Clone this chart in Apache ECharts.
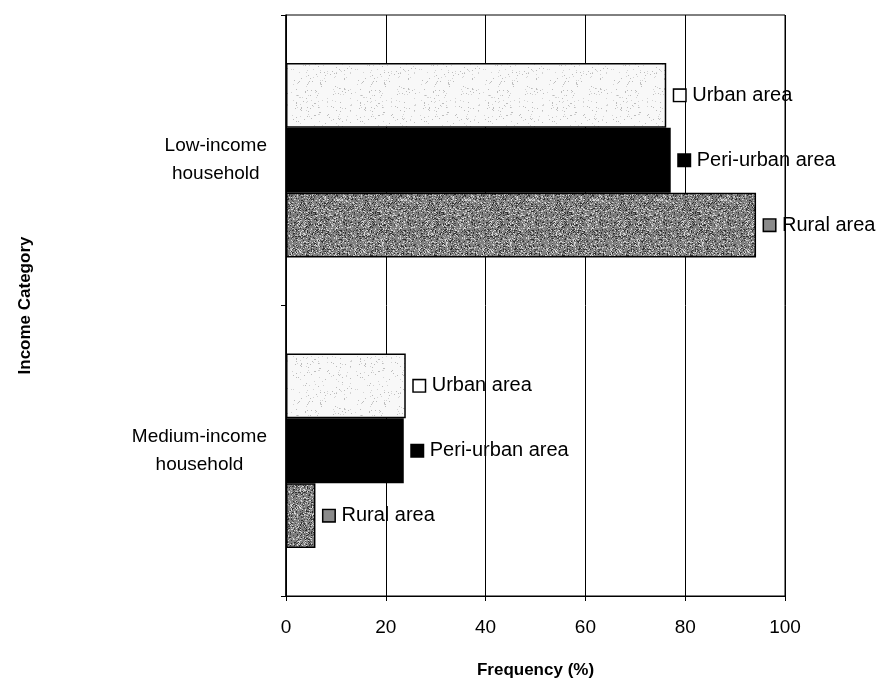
<!DOCTYPE html>
<html>
<head>
<meta charset="utf-8">
<script src="https://cdn.jsdelivr.net/npm/echarts@6/dist/echarts.min.js"></script>
<style>
  html, body { margin: 0; padding: 0; background: #fff; }
  #chart { width: 883px; height: 688px; }
</style>
</head>
<body>
<div id="chart"></div>
<script>
// Income categories (top to bottom) and share of households per area type
const categories = ['Low-income\nhousehold', 'Medium-income\nhousehold'];
const areaNames = ['Urban area', 'Peri-urban area', 'Rural area'];
const urbanValues = [76.2, 24.0];
const periUrbanValues = [77.1, 23.6];
const ruralValues = [94.2, 5.9];
const xTicks = [0, 20, 40, 60, 80, 100];

// Stippled fills built on a small canvas tile with a fixed-seed generator
function stipple(base, dotColors, density, size) {
  const c = document.createElement('canvas');
  c.width = size; c.height = size;
  const ctx = c.getContext('2d');
  ctx.fillStyle = base;
  ctx.fillRect(0, 0, size, size);
  let seed = 12345;
  const next = () => { seed = (seed * 1103515245 + 12345) & 0x7fffffff; return seed / 0x7fffffff; };
  const n = Math.round(size * size * density);
  for (let i = 0; i < n; i++) {
    const x = Math.floor(next() * size), y = Math.floor(next() * size);
    ctx.fillStyle = dotColors[Math.floor(next() * dotColors.length)];
    ctx.fillRect(x, y, 1, 1);
  }
  return { image: c, repeat: 'repeat' };
}

const urbanFill = stipple('#f8f8f8', ['#bdbdbd', '#d4d4d4'], 0.05, 64);
const ruralFill = stipple('#808080', ['#2e2e2e', '#4a4a4a', '#b8b8b8', '#d8d8d8'], 0.5, 64);
const periFill = '#000000';

const fills = [urbanFill, periFill, ruralFill];
const boxColors = ['#ffffff', '#000000', '#8a8a8a'];
const valueSets = [urbanValues, periUrbanValues, ruralValues];

const fontFamily = '"Liberation Sans", Arial, sans-serif';

const series = areaNames.map((name, i) => ({
  name: name,
  type: 'bar',
  data: valueSets[i],
  barGap: '0%',
  barCategoryGap: '33%',
  itemStyle: {
    color: fills[i],
    borderColor: '#000',
    borderWidth: 1.5
  },
  label: {
    show: true,
    position: 'right',
    distance: 8,
    formatter: '{box|}{txt|' + name + '}',
    rich: {
      box: {
        width: 11, height: 11,
        backgroundColor: boxColors[i],
        borderColor: '#000',
        borderWidth: 1.5
      },
      txt: {
        fontFamily: fontFamily,
        fontSize: 20,
        color: '#000',
        padding: [0, 0, 0, 7]
      }
    }
  }
}));

const chart = echarts.init(document.getElementById('chart'), null, { renderer: 'canvas' });
chart.setOption({
  backgroundColor: '#fff',
  animation: false,
  grid: {
    left: 286, right: 98, top: 15, bottom: 92,
    show: true, borderColor: '#000', borderWidth: 1, backgroundColor: 'transparent'
  },
  xAxis: {
    type: 'value',
    min: xTicks[0],
    max: xTicks[xTicks.length - 1],
    interval: 20,
    name: 'Frequency (%)',
    nameLocation: 'middle',
    nameGap: 66,
    nameTextStyle: { fontFamily: fontFamily, fontSize: 17, fontWeight: 'bold', color: '#000' },
    axisLine: { show: true, lineStyle: { color: '#000', width: 1 } },
    axisTick: { show: true, length: 5, lineStyle: { color: '#000' } },
    axisLabel: { fontFamily: fontFamily, fontSize: 19, color: '#000', margin: 22 },
    splitLine: { show: true, lineStyle: { color: '#000', width: 1 } }
  },
  yAxis: {
    type: 'category',
    data: categories,
    inverse: true,
    name: 'Income Category',
    nameLocation: 'middle',
    nameGap: 252,
    nameRotate: 90,
    nameTextStyle: { fontFamily: fontFamily, fontSize: 17, fontWeight: 'bold', color: '#000' },
    axisLine: { show: true, lineStyle: { color: '#000', width: 1.5 } },
    axisTick: { show: true, length: 5, inside: false, lineStyle: { color: '#000' } },
    axisLabel: {
      margin: 19,
      align: 'right',
      lineHeight: 28,
      formatter: v => v.split('\n').map(s => '{c|' + s + '}').join('\n'),
      rich: {
        c: { fontFamily: fontFamily, fontSize: 19, color: '#000', align: 'center', lineHeight: 28 }
      }
    },
    splitLine: { show: false }
  },
  series: series
});
</script>
</body>
</html>
